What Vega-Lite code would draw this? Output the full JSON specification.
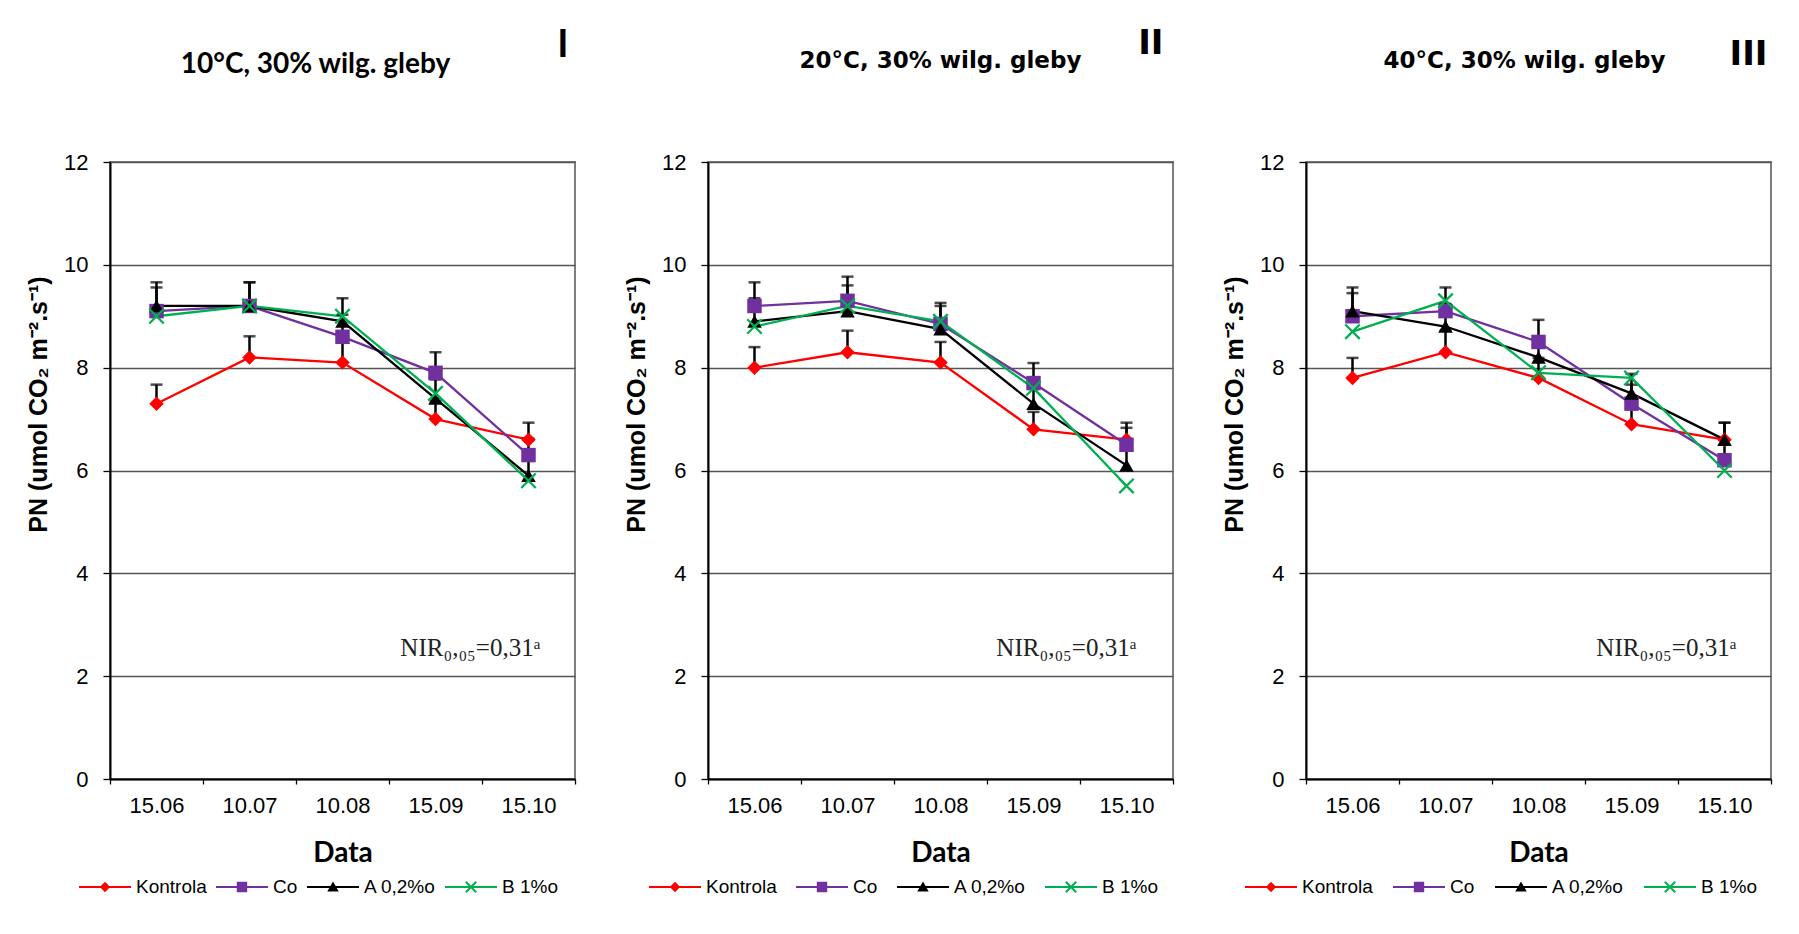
{
  "$schema": "https://vega.github.io/schema/vega-lite/v6.json",
  "background": "white",
  "padding": {"left": 25, "top": 26, "right": 0, "bottom": 0},
  "bounds": "flush",
  "spacing": 133,
  "datasets": {
    "pn": [
      {"panel": "I", "date": "15.06", "series": "Kontrola", "v": 7.3, "hi": 7.67},
      {"panel": "I", "date": "10.07", "series": "Kontrola", "v": 8.2, "hi": 8.61},
      {"panel": "I", "date": "10.08", "series": "Kontrola", "v": 8.1, "hi": 8.5},
      {"panel": "I", "date": "15.09", "series": "Kontrola", "v": 7.0, "hi": 7.35},
      {"panel": "I", "date": "15.10", "series": "Kontrola", "v": 6.6, "hi": 6.93},
      {"panel": "I", "date": "15.06", "series": "Co", "v": 9.1, "hi": 9.56},
      {"panel": "I", "date": "10.07", "series": "Co", "v": 9.2, "hi": 9.66},
      {"panel": "I", "date": "10.08", "series": "Co", "v": 8.6, "hi": 9.03},
      {"panel": "I", "date": "15.09", "series": "Co", "v": 7.9, "hi": 8.3},
      {"panel": "I", "date": "15.10", "series": "Co", "v": 6.3, "hi": 6.62},
      {"panel": "I", "date": "15.06", "series": "A 0,2%o", "v": 9.2, "hi": 9.66},
      {"panel": "I", "date": "10.07", "series": "A 0,2%o", "v": 9.2, "hi": 9.66},
      {"panel": "I", "date": "10.08", "series": "A 0,2%o", "v": 8.9, "hi": 9.35},
      {"panel": "I", "date": "15.09", "series": "A 0,2%o", "v": 7.4, "hi": 7.77},
      {"panel": "I", "date": "15.10", "series": "A 0,2%o", "v": 5.9, "hi": 6.2},
      {"panel": "I", "date": "15.06", "series": "B 1%o", "v": 9.0, "hi": null},
      {"panel": "I", "date": "10.07", "series": "B 1%o", "v": 9.2, "hi": null},
      {"panel": "I", "date": "10.08", "series": "B 1%o", "v": 9.0, "hi": null},
      {"panel": "I", "date": "15.09", "series": "B 1%o", "v": 7.5, "hi": null},
      {"panel": "I", "date": "15.10", "series": "B 1%o", "v": 5.8, "hi": null},
      {"panel": "II", "date": "15.06", "series": "Kontrola", "v": 8.0, "hi": 8.4},
      {"panel": "II", "date": "10.07", "series": "Kontrola", "v": 8.3, "hi": 8.72},
      {"panel": "II", "date": "10.08", "series": "Kontrola", "v": 8.1, "hi": 8.5},
      {"panel": "II", "date": "15.09", "series": "Kontrola", "v": 6.8, "hi": 7.14},
      {"panel": "II", "date": "15.10", "series": "Kontrola", "v": 6.6, "hi": 6.93},
      {"panel": "II", "date": "15.06", "series": "Co", "v": 9.2, "hi": 9.66},
      {"panel": "II", "date": "10.07", "series": "Co", "v": 9.3, "hi": 9.77},
      {"panel": "II", "date": "10.08", "series": "Co", "v": 8.85, "hi": 9.26},
      {"panel": "II", "date": "15.09", "series": "Co", "v": 7.7, "hi": 8.09},
      {"panel": "II", "date": "15.10", "series": "Co", "v": 6.5, "hi": 6.83},
      {"panel": "II", "date": "15.06", "series": "A 0,2%o", "v": 8.9, "hi": 9.35},
      {"panel": "II", "date": "10.07", "series": "A 0,2%o", "v": 9.1, "hi": 9.6},
      {"panel": "II", "date": "10.08", "series": "A 0,2%o", "v": 8.75, "hi": 9.2},
      {"panel": "II", "date": "15.09", "series": "A 0,2%o", "v": 7.3, "hi": 7.67},
      {"panel": "II", "date": "15.10", "series": "A 0,2%o", "v": 6.1, "hi": 6.41},
      {"panel": "II", "date": "15.06", "series": "B 1%o", "v": 8.8, "hi": null},
      {"panel": "II", "date": "10.07", "series": "B 1%o", "v": 9.2, "hi": null},
      {"panel": "II", "date": "10.08", "series": "B 1%o", "v": 8.9, "hi": null},
      {"panel": "II", "date": "15.09", "series": "B 1%o", "v": 7.6, "hi": null},
      {"panel": "II", "date": "15.10", "series": "B 1%o", "v": 5.7, "hi": null},
      {"panel": "III", "date": "15.06", "series": "Kontrola", "v": 7.8, "hi": 8.19},
      {"panel": "III", "date": "10.07", "series": "Kontrola", "v": 8.3, "hi": 8.72},
      {"panel": "III", "date": "10.08", "series": "Kontrola", "v": 7.8, "hi": 8.19},
      {"panel": "III", "date": "15.09", "series": "Kontrola", "v": 6.9, "hi": 7.25},
      {"panel": "III", "date": "15.10", "series": "Kontrola", "v": 6.6, "hi": 6.93},
      {"panel": "III", "date": "15.06", "series": "Co", "v": 9.0, "hi": 9.45},
      {"panel": "III", "date": "10.07", "series": "Co", "v": 9.1, "hi": 9.56},
      {"panel": "III", "date": "10.08", "series": "Co", "v": 8.5, "hi": 8.93},
      {"panel": "III", "date": "15.09", "series": "Co", "v": 7.3, "hi": 7.67},
      {"panel": "III", "date": "15.10", "series": "Co", "v": 6.2, "hi": 6.51},
      {"panel": "III", "date": "15.06", "series": "A 0,2%o", "v": 9.1, "hi": 9.56},
      {"panel": "III", "date": "10.07", "series": "A 0,2%o", "v": 8.8, "hi": 9.24},
      {"panel": "III", "date": "10.08", "series": "A 0,2%o", "v": 8.2, "hi": 8.61},
      {"panel": "III", "date": "15.09", "series": "A 0,2%o", "v": 7.5, "hi": 7.88},
      {"panel": "III", "date": "15.10", "series": "A 0,2%o", "v": 6.6, "hi": 6.93},
      {"panel": "III", "date": "15.06", "series": "B 1%o", "v": 8.7, "hi": null},
      {"panel": "III", "date": "10.07", "series": "B 1%o", "v": 9.3, "hi": null},
      {"panel": "III", "date": "10.08", "series": "B 1%o", "v": 7.9, "hi": null},
      {"panel": "III", "date": "15.09", "series": "B 1%o", "v": 7.8, "hi": null},
      {"panel": "III", "date": "15.10", "series": "B 1%o", "v": 6.0, "hi": null}
    ]
  },
  "config": {
    "font": "Liberation Sans",
    "view": {"stroke": "#7f7f7f", "strokeWidth": 2},
    "axis": {"labelFont": "Liberation Sans", "labelFontSize": 22, "labelColor": "#000000", "domainColor": "#000000", "tickColor": "#000000", "titleColor": "#000000"},
    "legend": {"orient": "none", "legendY": 699, "direction": "horizontal", "symbolSize": 2704, "labelFont": "Liberation Sans", "labelFontSize": 19, "labelColor": "#000000", "labelOffset": 5, "padding": 0, "symbolStrokeWidth": 0}
  },
  "resolve": {"scale": {"color": "independent", "fill": "independent", "shape": "independent", "x": "independent", "y": "independent"}, "legend": {"color": "independent", "fill": "independent", "shape": "independent"}},
  "hconcat": [
    {
      "width": 465, "height": 617,
      "data": {"name": "pn"},
      "layer": [
        {"transform": [{"filter": "datum.panel === 'I'"}], "mark": {"type": "line", "strokeWidth": 2.3}, "encoding": {
          "x": {"field": "date", "type": "ordinal", "title": "Data", "scale": {"type": "band", "domain": ["15.06", "10.07", "10.08", "15.09", "15.10"], "paddingInner": 0, "paddingOuter": 0}, "axis": {"tickBand": "extent", "grid": false, "tickSize": 5, "tickWidth": 1.3, "labelPadding": 11, "labelAngle": 0, "domainWidth": 2, "titleFont": "Lato", "titleFontSize": 28, "titleFontWeight": "bold", "titlePadding": 23}},
          "y": {"field": "v", "type": "quantitative", "title": "PN (umol CO₂ m⁻².s⁻¹)", "scale": {"domain": [0, 12], "nice": false}, "axis": {"values": [0, 2, 4, 6, 8, 10, 12], "grid": true, "gridColor": "#555555", "gridWidth": 1.3, "tickSize": 7, "tickWidth": 1.3, "labelPadding": 15, "domainWidth": 2, "titleFont": "Liberation Sans", "titleFontSize": 25, "titleFontWeight": "bold", "titlePadding": 12, "titleY": 242}},
          "color": {"field": "series", "type": "nominal", "legend": null, "scale": {"range": ["#000000", "#00B050", "#7030A0", "#FF0000"]}}}},
        {"transform": [{"filter": "datum.panel === 'I' && datum.hi != null"}], "mark": {"type": "rule", "color": "#000000", "strokeWidth": 2.5}, "encoding": {
          "x": {"field": "date", "type": "ordinal"},
          "y": {"field": "v", "type": "quantitative", "title": "PN (umol CO₂ m⁻².s⁻¹)"}, "y2": {"field": "hi"}}},
        {"transform": [{"filter": "datum.panel === 'I' && datum.hi != null"}], "mark": {"type": "tick", "color": "#000000", "thickness": 2.5, "size": 12, "orient": "horizontal"}, "encoding": {
          "x": {"field": "date", "type": "ordinal"},
          "y": {"field": "hi", "type": "quantitative", "title": "PN (umol CO₂ m⁻².s⁻¹)"}}},
        {"transform": [{"filter": "datum.panel === 'I'"}], "mark": {"type": "point", "filled": true, "size": 210, "opacity": 1}, "encoding": {
          "x": {"field": "date", "type": "ordinal"},
          "y": {"field": "v", "type": "quantitative", "title": "PN (umol CO₂ m⁻².s⁻¹)"},
          "fill": {"field": "series", "type": "nominal", "scale": {"domain": ["Kontrola", "Co", "A 0,2%o", "B 1%o"], "range": ["#FF0000", "#7030A0", "#000000", "#00B050"]}, "legend": {"title": null, "legendX": -31, "columnPadding": 9, "encoding": {"symbols": {"shape": {"value": {"expr": "datum.value === 'Kontrola' ? 'M-1,-0.04H1V0.04H-1Z M0,-0.2L0.2,0L0,0.2L-0.2,0Z' : datum.value === 'Co' ? 'M-1,-0.04H1V0.04H-1Z M-0.2,-0.2H0.2V0.2H-0.2Z' : datum.value === 'A 0,2%o' ? 'M-1,-0.04H1V0.04H-1Z M0,-0.21L0.22,0.17H-0.22Z' : 'M-1,-0.04H1V0.04H-1Z M-0.173,-0.227L0.227,0.173L0.173,0.227L-0.227,-0.173Z M-0.227,0.173L0.173,-0.227L0.227,-0.173L-0.173,0.227Z'"}}}}}},
          "shape": {"field": "series", "type": "nominal", "legend": null, "scale": {"range": ["triangle-up", "M-0.89,-1.11L1.11,0.89L0.89,1.11L-1.11,-0.89Z M-1.11,0.89L0.89,-1.11L1.11,-0.89L-0.89,1.11Z", "square", "diamond"]}}}},
        {"data": {"values": [{}]}, "mark": {"type": "text", "text": "NIR₀,₀₅=0,31ᵃ", "font": "Liberation Serif", "fontSize": 25, "align": "right", "baseline": "alphabetic", "dx": 12, "color": "#222222"}, "encoding": {"x": {"datum": "15.10", "type": "ordinal"}, "y": {"datum": 2.39, "type": "quantitative"}}},
        {"data": {"values": [{}]}, "mark": {"type": "text", "text": "10°C, 30% wilg. gleby", "font": "Lato", "fontSize": 28, "fontWeight": "bold", "align": "center", "baseline": "alphabetic", "dx": -27, "color": "#000000"}, "encoding": {"x": {"datum": "10.08", "type": "ordinal"}, "y": {"datum": 13.73, "type": "quantitative"}}},
        {"data": {"values": [{}]}, "mark": {"type": "text", "text": "I", "font": "Lato", "fontSize": 38, "fontWeight": "bold", "align": "right", "baseline": "alphabetic", "dx": 40, "color": "#000000"}, "encoding": {"x": {"datum": "15.10", "type": "ordinal"}, "y": {"datum": 14.04, "type": "quantitative"}}}
      ]
    },
    {
      "width": 465, "height": 617,
      "data": {"name": "pn"},
      "layer": [
        {"transform": [{"filter": "datum.panel === 'II'"}], "mark": {"type": "line", "strokeWidth": 2.3}, "encoding": {
          "x": {"field": "date", "type": "ordinal", "title": "Data", "scale": {"type": "band", "domain": ["15.06", "10.07", "10.08", "15.09", "15.10"], "paddingInner": 0, "paddingOuter": 0}, "axis": {"tickBand": "extent", "grid": false, "tickSize": 5, "tickWidth": 1.3, "labelPadding": 11, "labelAngle": 0, "domainWidth": 2, "titleFont": "Lato", "titleFontSize": 28, "titleFontWeight": "bold", "titlePadding": 23}},
          "y": {"field": "v", "type": "quantitative", "title": "PN (umol CO₂ m⁻².s⁻¹)", "scale": {"domain": [0, 12], "nice": false}, "axis": {"values": [0, 2, 4, 6, 8, 10, 12], "grid": true, "gridColor": "#555555", "gridWidth": 1.3, "tickSize": 7, "tickWidth": 1.3, "labelPadding": 15, "domainWidth": 2, "titleFont": "Liberation Sans", "titleFontSize": 25, "titleFontWeight": "bold", "titlePadding": 12, "titleY": 242}},
          "color": {"field": "series", "type": "nominal", "legend": null, "scale": {"range": ["#000000", "#00B050", "#7030A0", "#FF0000"]}}}},
        {"transform": [{"filter": "datum.panel === 'II' && datum.hi != null"}], "mark": {"type": "rule", "color": "#000000", "strokeWidth": 2.5}, "encoding": {
          "x": {"field": "date", "type": "ordinal"},
          "y": {"field": "v", "type": "quantitative", "title": "PN (umol CO₂ m⁻².s⁻¹)"}, "y2": {"field": "hi"}}},
        {"transform": [{"filter": "datum.panel === 'II' && datum.hi != null"}], "mark": {"type": "tick", "color": "#000000", "thickness": 2.5, "size": 12, "orient": "horizontal"}, "encoding": {
          "x": {"field": "date", "type": "ordinal"},
          "y": {"field": "hi", "type": "quantitative", "title": "PN (umol CO₂ m⁻².s⁻¹)"}}},
        {"transform": [{"filter": "datum.panel === 'II'"}], "mark": {"type": "point", "filled": true, "size": 210, "opacity": 1}, "encoding": {
          "x": {"field": "date", "type": "ordinal"},
          "y": {"field": "v", "type": "quantitative", "title": "PN (umol CO₂ m⁻².s⁻¹)"},
          "fill": {"field": "series", "type": "nominal", "scale": {"domain": ["Kontrola", "Co", "A 0,2%o", "B 1%o"], "range": ["#FF0000", "#7030A0", "#000000", "#00B050"]}, "legend": {"title": null, "legendX": -59, "columnPadding": 19, "encoding": {"symbols": {"shape": {"value": {"expr": "datum.value === 'Kontrola' ? 'M-1,-0.04H1V0.04H-1Z M0,-0.2L0.2,0L0,0.2L-0.2,0Z' : datum.value === 'Co' ? 'M-1,-0.04H1V0.04H-1Z M-0.2,-0.2H0.2V0.2H-0.2Z' : datum.value === 'A 0,2%o' ? 'M-1,-0.04H1V0.04H-1Z M0,-0.21L0.22,0.17H-0.22Z' : 'M-1,-0.04H1V0.04H-1Z M-0.173,-0.227L0.227,0.173L0.173,0.227L-0.227,-0.173Z M-0.227,0.173L0.173,-0.227L0.227,-0.173L-0.173,0.227Z'"}}}}}},
          "shape": {"field": "series", "type": "nominal", "legend": null, "scale": {"range": ["triangle-up", "M-0.89,-1.11L1.11,0.89L0.89,1.11L-1.11,-0.89Z M-1.11,0.89L0.89,-1.11L1.11,-0.89L-0.89,1.11Z", "square", "diamond"]}}}},
        {"data": {"values": [{}]}, "mark": {"type": "text", "text": "NIR₀,₀₅=0,31ᵃ", "font": "Liberation Serif", "fontSize": 25, "align": "right", "baseline": "alphabetic", "dx": 10, "color": "#222222"}, "encoding": {"x": {"datum": "15.10", "type": "ordinal"}, "y": {"datum": 2.39, "type": "quantitative"}}},
        {"data": {"values": [{}]}, "mark": {"type": "text", "text": "20°C, 30% wilg. gleby", "font": "DejaVu Sans", "fontSize": 23, "fontWeight": "bold", "align": "center", "baseline": "alphabetic", "dx": 0, "color": "#000000"}, "encoding": {"x": {"datum": "10.08", "type": "ordinal"}, "y": {"datum": 13.82, "type": "quantitative"}}},
        {"data": {"values": [{}]}, "mark": {"type": "text", "text": "II", "font": "DejaVu Sans", "fontSize": 34, "fontWeight": "bold", "align": "right", "baseline": "alphabetic", "dx": 37, "color": "#000000"}, "encoding": {"x": {"datum": "15.10", "type": "ordinal"}, "y": {"datum": 14.1, "type": "quantitative"}}}
      ]
    },
    {
      "width": 465, "height": 617,
      "data": {"name": "pn"},
      "layer": [
        {"transform": [{"filter": "datum.panel === 'III'"}], "mark": {"type": "line", "strokeWidth": 2.3}, "encoding": {
          "x": {"field": "date", "type": "ordinal", "title": "Data", "scale": {"type": "band", "domain": ["15.06", "10.07", "10.08", "15.09", "15.10"], "paddingInner": 0, "paddingOuter": 0}, "axis": {"tickBand": "extent", "grid": false, "tickSize": 5, "tickWidth": 1.3, "labelPadding": 11, "labelAngle": 0, "domainWidth": 2, "titleFont": "Lato", "titleFontSize": 28, "titleFontWeight": "bold", "titlePadding": 23}},
          "y": {"field": "v", "type": "quantitative", "title": "PN (umol CO₂ m⁻².s⁻¹)", "scale": {"domain": [0, 12], "nice": false}, "axis": {"values": [0, 2, 4, 6, 8, 10, 12], "grid": true, "gridColor": "#555555", "gridWidth": 1.3, "tickSize": 7, "tickWidth": 1.3, "labelPadding": 15, "domainWidth": 2, "titleFont": "Liberation Sans", "titleFontSize": 25, "titleFontWeight": "bold", "titlePadding": 12, "titleY": 242}},
          "color": {"field": "series", "type": "nominal", "legend": null, "scale": {"range": ["#000000", "#00B050", "#7030A0", "#FF0000"]}}}},
        {"transform": [{"filter": "datum.panel === 'III' && datum.hi != null"}], "mark": {"type": "rule", "color": "#000000", "strokeWidth": 2.5}, "encoding": {
          "x": {"field": "date", "type": "ordinal"},
          "y": {"field": "v", "type": "quantitative", "title": "PN (umol CO₂ m⁻².s⁻¹)"}, "y2": {"field": "hi"}}},
        {"transform": [{"filter": "datum.panel === 'III' && datum.hi != null"}], "mark": {"type": "tick", "color": "#000000", "thickness": 2.5, "size": 12, "orient": "horizontal"}, "encoding": {
          "x": {"field": "date", "type": "ordinal"},
          "y": {"field": "hi", "type": "quantitative", "title": "PN (umol CO₂ m⁻².s⁻¹)"}}},
        {"transform": [{"filter": "datum.panel === 'III'"}], "mark": {"type": "point", "filled": true, "size": 210, "opacity": 1}, "encoding": {
          "x": {"field": "date", "type": "ordinal"},
          "y": {"field": "v", "type": "quantitative", "title": "PN (umol CO₂ m⁻².s⁻¹)"},
          "fill": {"field": "series", "type": "nominal", "scale": {"domain": ["Kontrola", "Co", "A 0,2%o", "B 1%o"], "range": ["#FF0000", "#7030A0", "#000000", "#00B050"]}, "legend": {"title": null, "legendX": -61, "columnPadding": 20, "encoding": {"symbols": {"shape": {"value": {"expr": "datum.value === 'Kontrola' ? 'M-1,-0.04H1V0.04H-1Z M0,-0.2L0.2,0L0,0.2L-0.2,0Z' : datum.value === 'Co' ? 'M-1,-0.04H1V0.04H-1Z M-0.2,-0.2H0.2V0.2H-0.2Z' : datum.value === 'A 0,2%o' ? 'M-1,-0.04H1V0.04H-1Z M0,-0.21L0.22,0.17H-0.22Z' : 'M-1,-0.04H1V0.04H-1Z M-0.173,-0.227L0.227,0.173L0.173,0.227L-0.227,-0.173Z M-0.227,0.173L0.173,-0.227L0.227,-0.173L-0.173,0.227Z'"}}}}}},
          "shape": {"field": "series", "type": "nominal", "legend": null, "scale": {"range": ["triangle-up", "M-0.89,-1.11L1.11,0.89L0.89,1.11L-1.11,-0.89Z M-1.11,0.89L0.89,-1.11L1.11,-0.89L-0.89,1.11Z", "square", "diamond"]}}}},
        {"data": {"values": [{}]}, "mark": {"type": "text", "text": "NIR₀,₀₅=0,31ᵃ", "font": "Liberation Serif", "fontSize": 25, "align": "right", "baseline": "alphabetic", "dx": 12, "color": "#222222"}, "encoding": {"x": {"datum": "15.10", "type": "ordinal"}, "y": {"datum": 2.39, "type": "quantitative"}}},
        {"data": {"values": [{}]}, "mark": {"type": "text", "text": "40°C, 30% wilg. gleby", "font": "DejaVu Sans", "fontSize": 23, "fontWeight": "bold", "align": "center", "baseline": "alphabetic", "dx": -14, "color": "#000000"}, "encoding": {"x": {"datum": "10.08", "type": "ordinal"}, "y": {"datum": 13.82, "type": "quantitative"}}},
        {"data": {"values": [{}]}, "mark": {"type": "text", "text": "III", "font": "DejaVu Sans", "fontSize": 34, "fontWeight": "bold", "align": "right", "baseline": "alphabetic", "dx": 43, "color": "#000000"}, "encoding": {"x": {"datum": "15.10", "type": "ordinal"}, "y": {"datum": 13.89, "type": "quantitative"}}}
      ]
    }
  ]
}
